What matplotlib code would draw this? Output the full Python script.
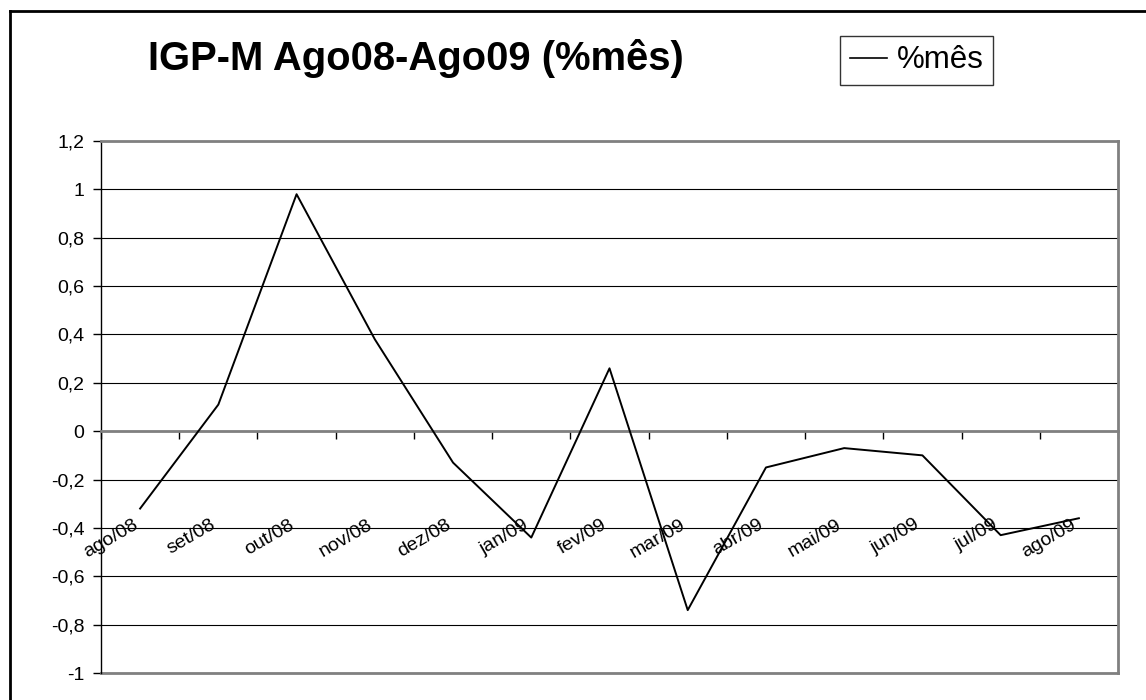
import matplotlib
matplotlib.use("Agg")
import matplotlib.pyplot as plt
import matplotlib.transforms as mtransforms
from matplotlib.lines import Line2D
import numpy as np

plt.rcParams['font.family'] = ['Liberation Sans', 'DejaVu Sans']

# data
months = ['ago/08', 'set/08', 'out/08', 'nov/08', 'dez/08', 'jan/09', 'fev/09',
          'mar/09', 'abr/09', 'mai/09', 'jun/09', 'jul/09', 'ago/09']
igpm = [-0.32, 0.11, 0.98, 0.38, -0.13, -0.44, 0.26, -0.74, -0.15, -0.07, -0.10, -0.43, -0.36]
yticks = [-1, -0.8, -0.6, -0.4, -0.2, 0, 0.2, 0.4, 0.6, 0.8, 1, 1.2]

W, H = 1146, 700
fig = plt.figure(figsize=(W / 100, H / 100), dpi=100)
fig.patch.set_facecolor('white')

# plot area in pixels: left 101, right 1118, top 141, bottom 673
ax = fig.add_axes([101 / W, 1 - 673 / H, (1118 - 101) / W, (673 - 141) / H])

x = np.arange(len(months))
ax.plot(x, igpm, color='black', lw=1.4, zorder=5, label='%mês')

ax.set_xlim(-0.5, len(months) - 0.5)
ax.set_ylim(-1, 1.2)

# y axis
ax.set_yticks(yticks)
ax.set_yticklabels([('%g' % round(v, 1)).replace('.', ',') for v in yticks])
ax.tick_params(axis='y', direction='out', length=6, width=1, color='black',
               labelsize=14, pad=6)
for v in yticks:
    ax.axhline(v, color='black', lw=0.8, zorder=1)

# x axis crossing at zero
ax.spines['bottom'].set_position(('data', 0))
ax.spines['bottom'].set_color('#808080')
ax.spines['bottom'].set_linewidth(2)
ax.spines['bottom'].set_zorder(3)
ax.set_xticks(np.arange(-0.5, len(months), 1.0))
ax.set_xticklabels([])
ax.tick_params(axis='x', direction='out', length=6, width=1, color='black')
ax.spines['left'].set_color('black')
ax.spines['left'].set_linewidth(1)
for s in ['top', 'right']:
    ax.spines[s].set_color('#808080')
    ax.spines[s].set_linewidth(2)
ax.axhline(-1, color='#808080', lw=2, zorder=2, clip_on=False)

# rotated category labels
off = mtransforms.offset_copy(ax.transData, fig=fig, x=-8, y=-85, units='dots')
for i, m in enumerate(months):
    ax.text(i, 0, m, transform=off, rotation=30, rotation_mode='anchor',
            ha='right', va='top', fontsize=14)

# title
fig.text(415.5 / W, 1 - 70 / H, 'IGP-M Ago08-Ago09 (%mês)', fontsize=28.8,
         fontweight='bold', ha='center', va='baseline')

# legend
handle = Line2D([], [], color='black', lw=1.2)
leg = fig.legend([handle], ['%mês'], loc='center',
                 bbox_to_anchor=(916.5 / W, 1 - 60.5 / H), fontsize=22.5,
                 frameon=True, fancybox=False, shadow=False,
                 handlelength=1.2, handletextpad=0.3, borderpad=0.3,
                 borderaxespad=0)
leg.get_frame().set_edgecolor('black')
leg.get_frame().set_linewidth(1)

# outer chart border (top and left)
fig.add_artist(Line2D([10 / W, 10 / W], [0, 1 - 10.5 / H], color='black', lw=2,
                      transform=fig.transFigure))
fig.add_artist(Line2D([10 / W, 1], [1 - 10.5 / H, 1 - 10.5 / H], color='black', lw=2,
                      transform=fig.transFigure))

fig.savefig('out.png', dpi=100)
